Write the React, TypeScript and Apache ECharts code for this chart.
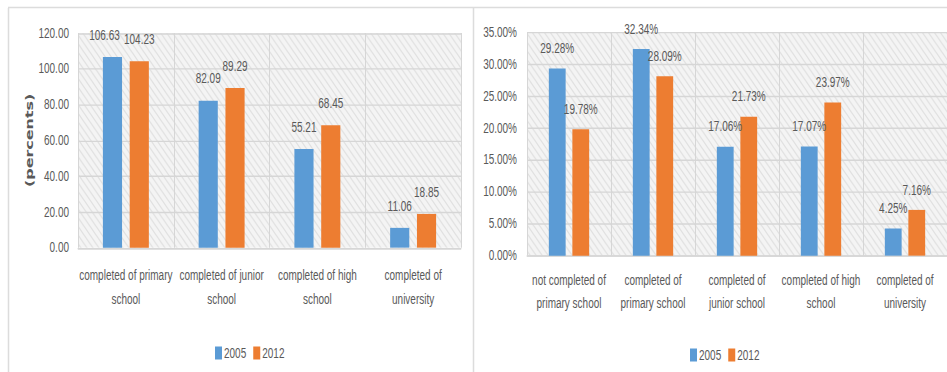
import React, { useEffect, useRef } from 'react';
import * as echarts from 'echarts';

const leftCategories = [
  'completed of primary\nschool',
  'completed of junior\nschool',
  'completed of high\nschool',
  'completed of\nuniversity',
];
const left2005 = [106.63, 82.09, 55.21, 11.06];
const left2012 = [104.23, 89.29, 68.45, 18.85];

const rightCategories = [
  'not completed of\nprimary school',
  'completed of\nprimary school',
  'completed of\njunior school',
  'completed of high\nschool',
  'completed of\nuniversity',
];
const right2005 = [29.28, 32.34, 17.06, 17.07, 4.25];
const right2012 = [19.78, 28.09, 21.73, 23.97, 7.16];

const seriesNames = ['2005', '2012'];
const leftAxisName = '(percents)';

const BLUE = '#5B9BD5';
const ORANGE = '#ED7D31';
const TEXT = '#595959';
const GRIDLINE = '#d6d6d6';
const FONT = '"Liberation Sans", Arial, sans-serif';

// The reference looks vertically stretched (tall, narrow glyphs): draw at a
// reduced height and stretch the whole chart vertically with CSS.
const W = 947;
const H = 372;
const S = 1.45;
const H0 = H / S;
const sy = (y: number) => y / S;

const hatchSvg =
  '<svg xmlns="http://www.w3.org/2000/svg" width="6" height="6">' +
  '<rect width="6" height="6" fill="#f4f4f4"/>' +
  '<path d="M-1,-1 L7,7 M-1,5 L1,7 M5,-1 L7,1" stroke="#e0e0e0" stroke-width="1"/></svg>';
const hatchUrl = 'data:image/svg+xml;charset=utf-8,' + encodeURIComponent(hatchSvg);

export default function App() {
  const ref = useRef<HTMLDivElement>(null);

  useEffect(() => {
    if (!ref.current) return;
    const chart = echarts.init(ref.current, null, { renderer: 'svg' });
    const pattern: any = { image: hatchUrl, repeat: 'repeat', imageWidth: 6, imageHeight: 6 };

    const xAxisCommon = {
      type: 'category' as const,
      axisLine: { show: true, lineStyle: { color: GRIDLINE, width: 1 } },
      axisTick: { show: false },
      splitLine: { show: true, lineStyle: { color: GRIDLINE, width: 1 } },
    };
    const yAxisCommon = {
      type: 'value' as const,
      min: 0,
      axisLine: { show: false },
      axisTick: { show: false },
      splitLine: { show: true, lineStyle: { color: GRIDLINE, width: 1 } },
    };
    const labelCommon = {
      show: true,
      position: 'top' as const,
      color: TEXT,
      fontSize: 10,
      fontFamily: FONT,
    };
    const legendCommon = {
      itemWidth: 7,
      itemHeight: sy(13),
      itemGap: 7,
      icon: 'rect',
      textStyle: { color: TEXT, fontSize: 10, fontFamily: FONT, padding: [0, 0, 0, -3] },
      selectedMode: false,
    };

    chart.setOption({
      animation: false,
      backgroundColor: '#ffffff',
      textStyle: { fontFamily: FONT },
      grid: [
        { left: 78, right: W - 461, top: sy(33), bottom: H0 - sy(247), show: true, backgroundColor: pattern, borderWidth: 0, outerBoundsMode: 'none' },
        { left: 527, right: 0, top: sy(32), bottom: H0 - sy(255), show: true, backgroundColor: pattern, borderWidth: 0, outerBoundsMode: 'none' },
      ],
      legend: [
        { ...legendCommon, data: seriesNames.map((n) => ({ name: n })), left: 210, top: sy(345) - sy(13) / 2 },
        {
          ...legendCommon,
          data: seriesNames.map((n) => ({ name: n + ' ' })),
          left: 685, top: sy(347) - sy(13) / 2,
          formatter: (n: string) => n.trim(),
        },
      ],
      xAxis: [
        {
          ...xAxisCommon, gridIndex: 0, data: leftCategories,
          axisLabel: { color: TEXT, fontSize: 10, fontFamily: FONT, lineHeight: sy(24), margin: sy(275) - sy(12) - sy(247), interval: 0 },
        },
        {
          ...xAxisCommon, gridIndex: 1, data: rightCategories,
          axisLabel: { color: TEXT, fontSize: 10, fontFamily: FONT, lineHeight: sy(23), margin: sy(280) - sy(11.5) - sy(255), interval: 0 },
        },
      ],
      yAxis: [
        {
          ...yAxisCommon, gridIndex: 0, max: 120, interval: 20,
          name: leftAxisName, nameLocation: 'middle', nameGap: 42,
          nameTextStyle: { color: TEXT, fontSize: 11, fontWeight: 'bold', fontFamily: '"DejaVu Sans", sans-serif' },
          axisLabel: { color: TEXT, fontSize: 10, fontFamily: FONT, margin: 9, formatter: (v: number) => v.toFixed(2) },
        },
        {
          ...yAxisCommon, gridIndex: 1, max: 35, interval: 5,
          axisLabel: { color: TEXT, fontSize: 10, fontFamily: FONT, margin: 10, formatter: (v: number) => v.toFixed(2) + '%' },
        },
      ],
      series: [
        {
          name: seriesNames[0], type: 'bar', xAxisIndex: 0, yAxisIndex: 0,
          barWidth: '20%', barGap: '40%', itemStyle: { color: BLUE },
          data: left2005.map((v, i) => (i === 0 ? { value: v, label: { offset: [-8, 0] } } : v)),
          label: { ...labelCommon, distance: sy(22) - 5, formatter: (p: any) => Number(p.value).toFixed(2) },
        },
        {
          name: seriesNames[1], type: 'bar', xAxisIndex: 0, yAxisIndex: 0,
          barWidth: '20%', barGap: '40%', itemStyle: { color: ORANGE },
          data: left2012,
          label: { ...labelCommon, distance: sy(22) - 5, formatter: (p: any) => Number(p.value).toFixed(2) },
        },
        {
          name: seriesNames[0] + ' ', type: 'bar', xAxisIndex: 1, yAxisIndex: 1,
          barWidth: '20%', barGap: '40%', itemStyle: { color: BLUE },
          data: right2005,
          label: { ...labelCommon, distance: sy(20) - 5, formatter: (p: any) => Number(p.value).toFixed(2) + '%' },
        },
        {
          name: seriesNames[1] + ' ', type: 'bar', xAxisIndex: 1, yAxisIndex: 1,
          barWidth: '20%', barGap: '40%', itemStyle: { color: ORANGE },
          data: right2012,
          label: { ...labelCommon, distance: sy(20) - 5, formatter: (p: any) => Number(p.value).toFixed(2) + '%' },
        },
      ],
      graphic: [
        { type: 'line', shape: { x1: 8, y1: sy(7.5), x2: W, y2: sy(7.5) }, style: { stroke: '#dcdcdc', lineWidth: 1.2 }, silent: true },
        { type: 'line', shape: { x1: 8.5, y1: sy(8), x2: 8.5, y2: H0 }, style: { stroke: '#dcdcdc', lineWidth: 1.5 }, silent: true },
        { type: 'line', shape: { x1: 473.5, y1: sy(8), x2: 473.5, y2: H0 }, style: { stroke: '#dcdcdc', lineWidth: 1.5 }, silent: true },
      ],
    });

    return () => chart.dispose();
  }, []);

  return (
    <div
      style={{ position: 'fixed', left: 0, top: 0, width: W, height: H, background: '#fff', overflow: 'hidden' }}
    >
      <div
        ref={ref}
        style={{ width: W, height: H0, transform: `scaleY(${S})`, transformOrigin: '0 0' }}
      />
    </div>
  );
}
